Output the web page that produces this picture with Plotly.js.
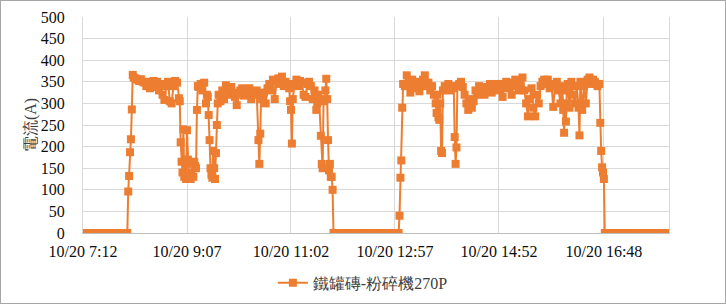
<!DOCTYPE html>
<html>
<head>
<meta charset="utf-8">
<script src="https://cdn.plot.ly/plotly-3.0.1.min.js"></script>
<style>
  html, body { margin: 0; padding: 0; background: #fff; }
  #wrap { position: relative; width: 726px; height: 304px; }
  #chart { width: 726px; height: 304px; }
  #frame { position: absolute; left: 0; top: 0; width: 726px; height: 304px; box-sizing: border-box; border: 1px solid #A6A6A6; pointer-events: none; }
</style>
</head>
<body>
<div id="wrap"><div id="chart"></div><div id="frame"></div></div>
<script>
// ---- data (times on 10/20, current in A) ----
const seriesName = "鐵罐磚-粉碎機270P";
const yTitle = "電流(A)";
const xTickLabels = ["10/20 7:12", "10/20 9:07", "10/20 11:02", "10/20 12:57", "10/20 14:52", "10/20 16:48"];

const zerosMorningTimes = ["7:12","7:15","7:18","7:21","7:24","7:27","7:30","7:33","7:36","7:39","7:42","7:45","7:48","7:51","7:54","7:57","8:00","8:01"];
const zerosMorning = [0,0,0,0,0,0,0,0,0,0,0,0,0,0,0,0,0,0];

const run1Times = ["8:02","8:03","8:04","8:05","8:06","8:07","8:08","8:10","8:12","8:14","8:16","8:18","8:20","8:22","8:24","8:26","8:28","8:30","8:32","8:34","8:36","8:38","8:40","8:42","8:44","8:46","8:48","8:50","8:52","8:54","8:56","8:58",
  "8:59","9:00","9:01","9:02","9:03","9:04","9:05","9:06","9:07","9:08","9:09","9:10","9:11","9:12","9:13","9:14","9:15","9:16","9:17","9:18","9:19",
  "9:20","9:22","9:24","9:26","9:28","9:29","9:30","9:31","9:32","9:33","9:34","9:35","9:36","9:37","9:38","9:39","9:40","9:41","9:42",
  "9:44","9:46","9:48","9:50","9:52","9:54","9:56","9:58","10:00","10:02","10:04","10:06","10:08","10:10","10:12","10:14","10:16","10:18","10:20","10:22","10:24",
  "10:26","10:27","10:28","10:29","10:30","10:32","10:34","10:36","10:38","10:40","10:42","10:44","10:46","10:48","10:50","10:52","10:54","10:56","10:58","11:00",
  "11:01","11:02","11:03","11:04","11:06","11:08","11:10","11:12","11:14","11:16","11:18","11:20","11:22","11:24","11:26",
  "11:28","11:29","11:30","11:31","11:32","11:33","11:35","11:36","11:37","11:38","11:40","11:41","11:42","11:43","11:44","11:45","11:46","11:47","11:48","11:49"];
const run1 = [96,132,187,217,286,366,360,358,355,352,356,350,348,340,350,335,345,352,338,350,330,345,320,308,340,350,305,300,340,352,348,312,
  305,210,165,140,240,130,165,125,238,170,128,135,125,140,160,130,165,155,150,285,340,
  338,345,330,348,300,320,315,273,215,150,135,128,190,150,125,185,250,300,320,
  305,330,310,342,335,320,338,325,315,296,320,330,335,318,330,325,335,310,328,320,330,
  215,160,230,320,310,325,300,335,345,330,355,310,350,358,345,362,340,350,345,335,
  305,285,207,310,345,355,340,352,348,320,315,345,350,340,310,
  330,320,285,300,320,310,225,160,150,305,330,357,310,215,145,160,130,130,100,0];

const zerosNoonTimes = ["11:52","11:55","11:58","12:01","12:04","12:07","12:10","12:13","12:16","12:19","12:22","12:25","12:28","12:31","12:34","12:37","12:40","12:43","12:46","12:49","12:52","12:55","12:58","13:01"];
const zerosNoon = [0,0,0,0,0,0,0,0,0,0,0,0,0,0,0,0,0,0,0,0,0,0,0,0];

const run2Times = ["13:02","13:03","13:04","13:05","13:06","13:08","13:10","13:12","13:14","13:16","13:18","13:20","13:22","13:24","13:26","13:28","13:30","13:32","13:34","13:36","13:38","13:40","13:42",
  "13:43","13:44","13:45","13:46","13:47","13:48","13:49","13:50","13:52","13:54","13:56","13:58","14:00","14:02","14:03","14:04","14:05","14:06",
  "14:08","14:10","14:12","14:14","14:16","14:18","14:20","14:22","14:24","14:26","14:28","14:30","14:32","14:34","14:36","14:38","14:40","14:42","14:44","14:46","14:48","14:50",
  "14:52","14:54","14:56","14:58","15:00","15:02","15:04","15:06","15:08","15:10","15:12","15:14","15:16","15:18",
  "15:20","15:22","15:24","15:26","15:28","15:30","15:32","15:34","15:36","15:38","15:40","15:42","15:44","15:46","15:48","15:50","15:52","15:54","15:56",
  "15:58","16:00","16:02","16:03","16:04","16:05","16:06","16:07","16:08","16:10","16:12","16:14","16:16","16:18","16:20","16:21","16:22","16:24","16:26","16:28","16:30","16:32","16:34","16:36","16:38","16:40",
  "16:41","16:43","16:44","16:45","16:46","16:47","16:48","16:49"];
const run2 = [40,128,168,290,345,340,365,350,325,355,345,335,350,328,345,355,365,340,348,330,340,320,300,
  278,320,268,262,300,190,185,330,340,335,345,330,340,335,222,160,198,340,
  345,350,338,320,300,285,310,290,305,330,320,340,325,335,320,338,330,345,325,340,335,345,
  330,345,315,340,350,335,348,320,340,355,345,330,345,360,
  330,300,270,310,335,290,270,320,300,340,350,355,345,355,335,345,292,340,350,
  330,300,340,285,232,300,258,330,345,290,350,320,300,340,290,226,350,285,340,300,355,360,345,355,350,345,
  340,345,255,190,152,140,125,0];

const zerosEveningTimes = ["16:52","16:55","16:58","17:01","17:04","17:07","17:10","17:13","17:16","17:19","17:22","17:25","17:28","17:31","17:34","17:37","17:40","17:43","17:46","17:49","17:52","17:55","17:58","18:00"];
const zerosEvening = [0,0,0,0,0,0,0,0,0,0,0,0,0,0,0,0,0,0,0,0,0,0,0,0];

// ---- build ----
function toMin(s) { const p = s.split(":"); return (+p[0]) * 60 + (+p[1]); }
const allTimes = [].concat(zerosMorningTimes, run1Times, zerosNoonTimes, run2Times, zerosEveningTimes);
const allVals = [].concat(zerosMorning, run1, zerosNoon, run2, zerosEvening);
const xs = allTimes.map(toMin);
const tickVals = xTickLabels.map(l => toMin(l.split(" ")[1]));

const orange = "#ED7D31";
const fontFam = "Liberation Serif";

const trace = {
  x: xs, y: allVals, name: seriesName, type: "scatter", mode: "lines+markers",
  line: { color: orange, width: 2 },
  marker: { symbol: "square", size: 8, color: orange, line: { width: 0 } },
  showlegend: true
};

const layout = {
  width: 726, height: 304,
  margin: { l: 83, r: 57, t: 17, b: 71, pad: 0, autoexpand: false },
  paper_bgcolor: "#fff", plot_bgcolor: "#fff",
  font: { family: fontFam, size: 16, color: "#0D0D0D" },
  showlegend: true,
  legend: {
    orientation: "h", x: 0.324, xanchor: "left", y: -0.231, yanchor: "middle",
    font: { family: fontFam, size: 16, color: "#404040" }, bgcolor: "rgba(0,0,0,0)"
  },
  xaxis: {
    type: "linear", range: [toMin("7:12"), toMin("18:00")],
    tickmode: "array", tickvals: tickVals, ticktext: xTickLabels,
    showgrid: true, gridcolor: "#D9D9D9", gridwidth: 1,
    showline: true, linecolor: "#BFBFBF", linewidth: 1, mirror: false,
    ticks: "", zeroline: false, ticklabelstandoff: 4,
    tickfont: { family: fontFam, size: 16, color: "#0D0D0D" }
  },
  yaxis: {
    range: [0, 500], dtick: 50, tick0: 0,
    showgrid: true, gridcolor: "#D9D9D9", gridwidth: 1,
    showline: true, linecolor: "#D9D9D9", linewidth: 1, mirror: true,
    ticks: "", zeroline: false, ticklabelstandoff: 14,
    tickfont: { family: fontFam, size: 16, color: "#0D0D0D" },
    title: { text: yTitle, font: { family: fontFam, size: 16, color: "#404040" }, standoff: 0 }
  },
  hovermode: false
};

Plotly.newPlot("chart", [trace], layout, { staticPlot: true, displayModeBar: false });
</script>
</body>
</html>
